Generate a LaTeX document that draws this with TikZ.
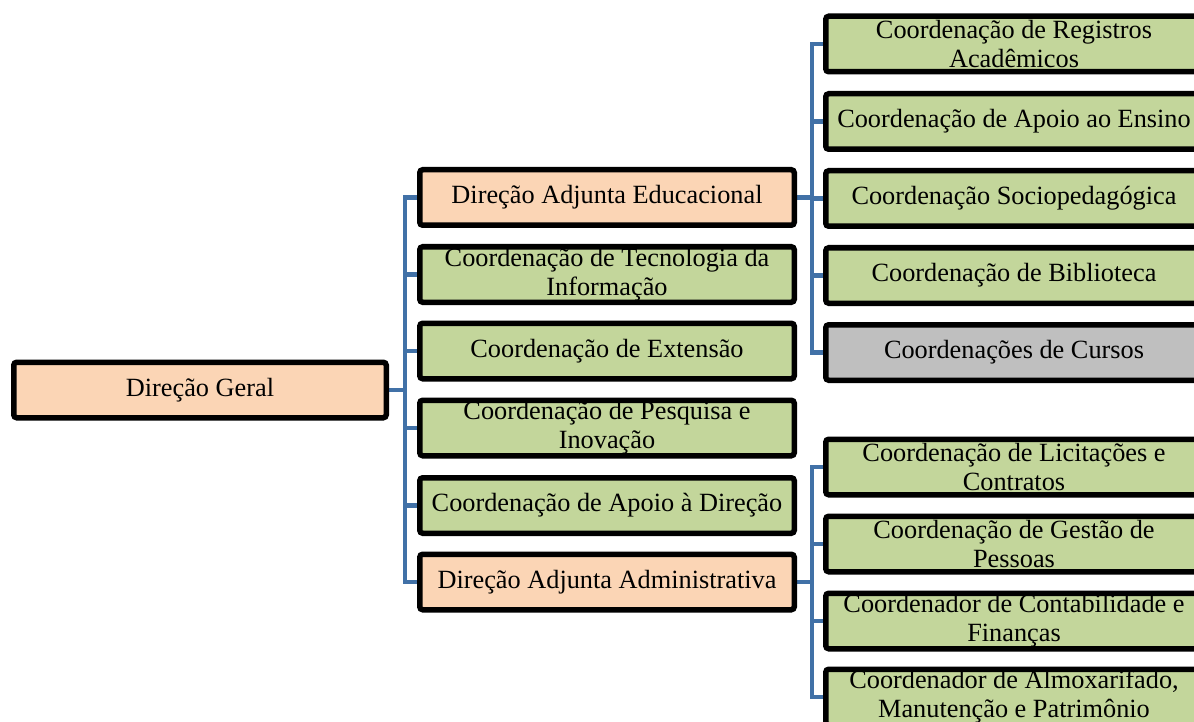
\documentclass[tikz,border=0pt]{standalone}
\usepackage{fontspec}
\setmainfont{Liberation Serif}
\definecolor{peachc}{RGB}{251,213,181}
\definecolor{greenc}{RGB}{195,214,155}
\definecolor{grayc}{RGB}{191,191,191}
\definecolor{bluec}{RGB}{65,113,167}
\pgfdeclarelayer{bg}
\pgfsetlayers{bg,main}
\tikzset{
  box/.style={draw=black, line width=5.5pt, rounded corners=3pt, inner sep=0pt,
    align=center, text=black, minimum height=55.5pt, font=\fontsize{26.3}{29}\selectfont},
  geralbox/.style={box, fill=peachc, minimum width=372.5pt},
  midbox/.style={box, minimum width=374.5pt},
  rightbox/.style={box, minimum width=376.5pt},
  peachfill/.style={fill=peachc},
  greenfill/.style={fill=greenc},
  grayfill/.style={fill=grayc},
  conn/.style={draw=bluec, line width=4.5pt}
}
\begin{document}
\begin{tikzpicture}[x=1pt,y=-1pt]
\useasboundingbox (0,0) rectangle (1194,722);
\clip (0,0) rectangle (1194,722);
% root
\node[geralbox] (geral) at (200,390) {Direção Geral};
% middle column
\node[midbox,peachfill] (dae) at (607,197.5) {Direção Adjunta Educacional};
\node[midbox,greenfill] (tec) at (607,274.5) {Coordenação de Tecnologia da\\Informação};
\node[midbox,greenfill] (ext) at (607,351) {Coordenação de Extensão};
\node[midbox,greenfill] (pes) at (607,428) {Coordenação de Pesquisa e\\Inovação};
\node[midbox,greenfill] (apd) at (607,505.5) {Coordenação de Apoio à Direção};
\node[midbox,peachfill] (daa) at (607,582) {Direção Adjunta Administrativa};
% right upper
\node[rightbox,greenfill] (reg) at (1014,44) {Coordenação de Registros\\Acadêmicos};
\node[rightbox,greenfill] (ens) at (1014,121.5) {Coordenação de Apoio ao Ensino};
\node[rightbox,greenfill] (soc) at (1014,198.5) {Coordenação Sociopedagógica};
\node[rightbox,greenfill] (bib) at (1014,275.5) {Coordenação de Biblioteca};
\node[rightbox,grayfill] (cur) at (1014,352.5) {Coordenações de Cursos};
% right lower
\node[rightbox,greenfill] (lic) at (1014,467) {Coordenação de Licitações e\\Contratos};
\node[rightbox,greenfill] (ges) at (1014,544) {Coordenação de Gestão de\\Pessoas};
\node[rightbox,greenfill] (con) at (1014,621) {Coordenador de Contabilidade e\\Finanças};
\node[rightbox,greenfill] (alm) at (1014,697) {Coordenador de Almoxarifado,\\Manutenção e Patrimônio};
% junctions
\coordinate (j1) at (405,0);
\coordinate (j2) at (812,0);
\begin{pgfonlayer}{bg}
\foreach \c in {dae,tec,ext,pes,apd,daa}
  \draw[conn] (geral.east) -- (geral.east -| j1) |- (\c.west);
\foreach \c in {reg,ens,soc,bib,cur}
  \draw[conn] (dae.east) -- (dae.east -| j2) |- (\c.west);
\foreach \c in {lic,ges,con,alm}
  \draw[conn] (daa.east) -- (daa.east -| j2) |- (\c.west);
\end{pgfonlayer}
\end{tikzpicture}
\end{document}
